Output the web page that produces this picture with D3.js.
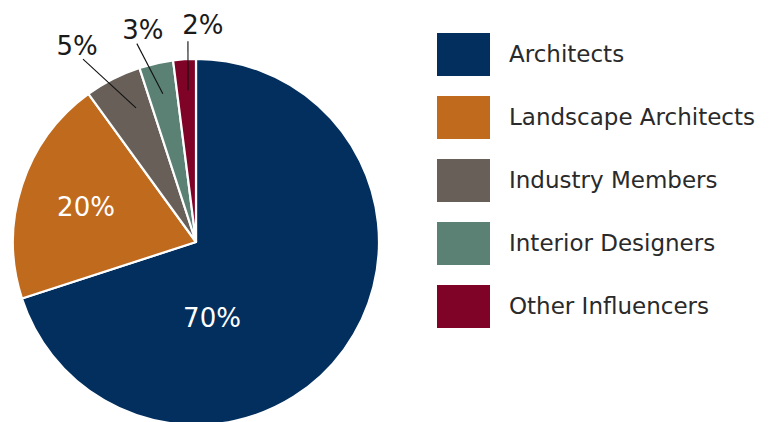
<!DOCTYPE html>
<html>
<head>
<meta charset="utf-8">
<script src="https://cdn.jsdelivr.net/npm/d3@7"></script>
<style>
  body { margin: 0; background: #fff; }
  svg { display: block; font-family: "DejaVu Sans", sans-serif; }
</style>
</head>
<body>
<script>
var categories = ["Architects", "Landscape Architects", "Industry Members", "Interior Designers", "Other Influencers"];
var shares = [70, 20, 5, 3, 2];
var colors = ["#022f5e", "#c06a1e", "#675f58", "#5a8173", "#7e0327"];

// callout layout for the small slices (angles in degrees, clockwise from 12 o'clock)
var callouts = {
  2: { a0: 335.9, r0: 147, a1: 328.3, r1: 215, dx: -6, dy: -4 },
  3: { a0: 347.4, r0: 152, a1: 343.4, r1: 207, dx: 6, dy: -5 },
  4: { a0: 357.0, r0: 152, a1: 357.7, r1: 201, dx: 15, dy: -7 }
};

var W = 770, H = 422, cx = 196, cy = 242, R = 183;

var svg = d3.select("body").append("svg")
    .attr("width", W).attr("height", H);

var pie = d3.pie().sort(null).value(function(d){ return d; });
var arcs = pie(shares);
var arc = d3.arc().innerRadius(0).outerRadius(R);

var g = svg.append("g").attr("transform", "translate(" + cx + "," + cy + ")");

g.selectAll("path.slice")
    .data(arcs)
  .enter().append("path")
    .attr("class", "slice")
    .attr("d", arc)
    .style("fill", function(d, i){ return colors[i]; })
    .style("stroke", "#fff")
    .style("stroke-width", 2.2)
    .style("stroke-linejoin", "round");

function polar(deg, r){
  var a = deg * Math.PI / 180;
  return [r * Math.sin(a), -r * Math.cos(a)];
}

// inside labels for the big slices
var inside = { 0: [16, 85], 1: [-110, -26] };
arcs.forEach(function(d, i){
  var pct = shares[i] + "%";
  if (callouts[i]) {
    var c = callouts[i];
    var p0 = polar(c.a0, c.r0), p1 = polar(c.a1, c.r1);
    g.append("line")
        .attr("x1", p0[0]).attr("y1", p0[1])
        .attr("x2", p1[0]).attr("y2", p1[1])
        .style("stroke", "#111").style("stroke-width", 1.1);
    g.append("text")
        .attr("x", p1[0] + c.dx).attr("y", p1[1] + c.dy)
        .attr("text-anchor", "middle")
        .style("font-size", "26px")
        .style("fill", "#1a1a1a")
        .text(pct);
  } else {
    var o = inside[i];
    g.append("text")
        .attr("x", o[0]).attr("y", o[1])
        .attr("text-anchor", "middle")
        .style("font-size", "26px")
        .style("fill", "#fff")
        .text(pct);
  }
});

// legend
var legend = svg.append("g").attr("transform", "translate(437,33)");
var rows = legend.selectAll("g.row")
    .data(categories)
  .enter().append("g")
    .attr("class", "row")
    .attr("transform", function(d, i){ return "translate(0," + (i * 63) + ")"; });

rows.append("rect")
    .attr("width", 53).attr("height", 43)
    .style("fill", function(d, i){ return colors[i]; });

rows.append("text")
    .attr("x", 72).attr("y", 29)
    .style("font-size", "23px")
    .style("fill", "#2a2a2a")
    .text(function(d){ return d; });
</script>
</body>
</html>
